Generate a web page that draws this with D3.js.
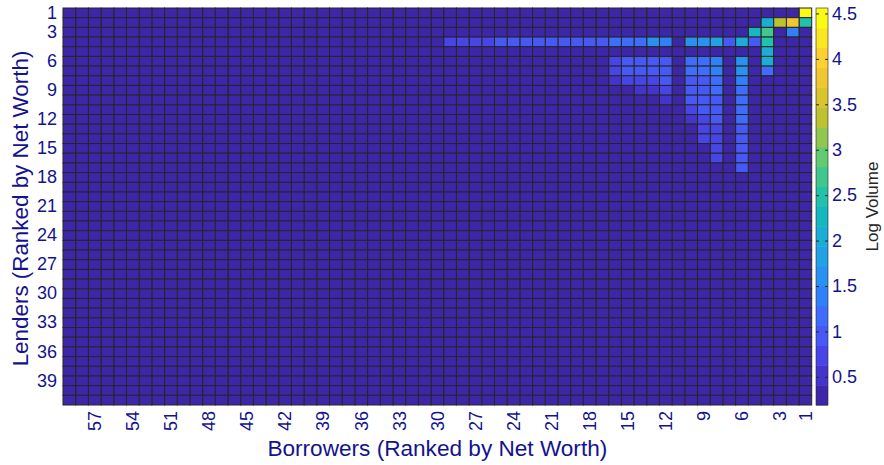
<!DOCTYPE html>
<html>
<head>
<meta charset="utf-8">
<script src="https://cdn.jsdelivr.net/npm/d3@7"></script>
<style>
  body { margin: 0; background: #fff; }
  text { font-family: "Liberation Sans", Arial, sans-serif; }
</style>
</head>
<body>
<svg id="heatmap" width="884" height="465"></svg>
<script>
// Data
const nBorrowers = 59;
const nLenders = 41;
const baseValue = 0.2;
const xTicks = [1, 3, 6, 9, 12, 15, 18, 21, 24, 27, 30, 33, 36, 39, 42, 45, 48, 51, 54, 57];
const yTicks = [1, 3, 6, 9, 12, 15, 18, 21, 24, 27, 30, 33, 36, 39];
const cbTicks = [0.5, 1, 1.5, 2, 2.5, 3, 3.5, 4, 4.5];
const cbDomain = [0.19, 4.56];

// cells above the base level: [lender, borrower, log volume]
const hotCells = [
  [1, 1, 4.5],
  [2, 1, 2.5], [2, 2, 3.8], [2, 3, 3.4], [2, 4, 2.05],
  [3, 2, 1.4], [3, 4, 2.7], [3, 5, 2.25],
  [4, 4, 2.5], [4, 5, 0.95], [4, 6, 2.0], [4, 7, 0.9], [4, 8, 1.9], [4, 9, 1.65], [4, 10, 1.6],
  [4, 12, 1.5], [4, 13, 1.55], [4, 14, 1.2], [4, 15, 1.15], [4, 16, 1.2], [4, 17, 0.95],
  [4, 18, 1.05], [4, 19, 1.05], [4, 20, 1.05], [4, 21, 0.95], [4, 22, 0.95], [4, 23, 1.0],
  [4, 24, 1.0], [4, 25, 1.0], [4, 26, 0.75], [4, 27, 0.75], [4, 28, 0.75], [4, 29, 0.7],
  [4, 30, 0.35], [4, 31, 0.3],
  [5, 4, 2.05],
  [6, 4, 2.0], [6, 6, 1.55], [6, 8, 1.45], [6, 9, 1.2], [6, 10, 1.2], [6, 12, 1.0], [6, 13, 1.05],
  [6, 14, 0.9], [6, 15, 0.95], [6, 16, 0.8],
  [7, 4, 1.2], [7, 6, 1.55], [7, 8, 1.3], [7, 9, 1.15], [7, 10, 1.1], [7, 12, 0.95], [7, 13, 0.95],
  [7, 14, 0.95], [7, 15, 0.85], [7, 16, 0.8],
  [8, 6, 1.4], [8, 8, 1.2], [8, 9, 1.05], [8, 10, 1.0], [8, 12, 0.85], [8, 13, 0.75], [8, 14, 0.75],
  [8, 15, 0.65], [8, 16, 0.6],
  [9, 6, 1.2], [9, 8, 1.1], [9, 9, 1.0], [9, 10, 0.95], [9, 12, 0.7], [9, 13, 0.6], [9, 14, 0.6],
  [10, 6, 1.2], [10, 8, 1.05], [10, 9, 1.0], [10, 10, 0.9], [10, 12, 0.6],
  [11, 6, 1.25], [11, 8, 1.0], [11, 9, 0.95], [11, 10, 0.8],
  [12, 6, 1.1], [12, 8, 0.95], [12, 9, 0.8], [12, 10, 0.6],
  [13, 6, 1.0], [13, 8, 0.8], [13, 9, 0.7],
  [14, 6, 0.95], [14, 8, 0.75], [14, 9, 0.7],
  [15, 6, 0.95], [15, 8, 0.75],
  [16, 6, 0.9], [16, 8, 0.65],
  [17, 6, 0.9]
];

// parula-like colormap, 20 steps
const parulaStops = ["#3e26a8", "#4536d4", "#484cf0", "#4562fc", "#327cfc", "#21a3e3",
  "#12beb8", "#5ccc75", "#c8c129", "#fec934", "#f9fb15"];
const stopPos = [0, 0.0625, 0.125, 0.1875, 0.25, 0.375, 0.5, 0.625, 0.75, 0.875, 1];
const parula = d3.scaleLinear().domain(stopPos).range(parulaStops).interpolate(d3.interpolateRgb);
const nLevels = 20;
const levelColors = d3.range(nLevels).map(k => parula(k / (nLevels - 1)));
const color = d3.scaleQuantize().domain(cbDomain).range(levelColors);

const svg = d3.select("#heatmap");
const margin = {top: 8, left: 63, right: 72.3, bottom: 60};
const width = 884, height = 465;
const plotRight = width - margin.right;
const plotBottom = height - margin.bottom;
const ink = "#13138f";

const lookup = new Map(hotCells.map(d => [d[0] + "-" + d[1], d[2]]));
const cells = [];
for (let r = 1; r <= nLenders; r++) {
  for (let c = 1; c <= nBorrowers; c++) {
    const v = lookup.get(r + "-" + c);
    cells.push({lender: r, borrower: c, value: v === undefined ? baseValue : v});
  }
}

const xScale = d3.scaleBand()
  .domain(d3.range(nBorrowers, 0, -1))
  .range([margin.left, plotRight]);
const yScale = d3.scaleBand()
  .domain(d3.range(1, nLenders + 1))
  .range([margin.top, plotBottom]);

// cells
svg.append("g").selectAll("rect")
  .data(cells)
  .enter().append("rect")
    .attr("x", d => xScale(d.borrower))
    .attr("y", d => yScale(d.lender))
    .attr("width", xScale.bandwidth())
    .attr("height", yScale.bandwidth())
    .attr("fill", d => color(d.value))
    .attr("stroke", "#262626")
    .attr("stroke-width", 1);

// axes
const xAxis = svg.append("g")
  .attr("transform", `translate(0,${plotBottom})`)
  .call(d3.axisBottom(xScale).tickValues(xTicks).tickSize(0).tickPadding(0));
xAxis.select(".domain").remove();
xAxis.selectAll("text")
  .attr("transform", "translate(0,6) rotate(-90)")
  .attr("text-anchor", "end")
  .attr("x", 0).attr("y", 0)
  .attr("dy", "0.35em")
  .attr("font-size", 18)
  .attr("fill", ink);

const yAxis = svg.append("g")
  .attr("transform", `translate(${margin.left},0)`)
  .call(d3.axisLeft(yScale).tickValues(yTicks).tickSize(0).tickPadding(6));
yAxis.select(".domain").remove();
yAxis.selectAll("text")
  .attr("font-size", 18)
  .attr("fill", ink);

svg.append("text")
  .attr("x", (margin.left + plotRight) / 2)
  .attr("y", 456)
  .attr("text-anchor", "middle")
  .attr("font-size", 22.6)
  .attr("fill", ink)
  .text("Borrowers (Ranked by Net Worth)");

svg.append("text")
  .attr("transform", `translate(28,${(margin.top + plotBottom) / 2 + 2}) rotate(-90)`)
  .attr("text-anchor", "middle")
  .attr("font-size", 22.4)
  .attr("fill", ink)
  .text("Lenders (Ranked by Net Worth)");

// colorbar
const cbX = 816, cbW = 12;
const cbScale = d3.scaleLinear().domain(cbDomain).range([plotBottom, margin.top]);
const step = (cbDomain[1] - cbDomain[0]) / nLevels;
svg.append("g").selectAll("rect")
  .data(levelColors)
  .enter().append("rect")
    .attr("x", cbX)
    .attr("y", (d, i) => cbScale(cbDomain[0] + (i + 1) * step))
    .attr("width", cbW)
    .attr("height", (d, i) => cbScale(cbDomain[0] + i * step) - cbScale(cbDomain[0] + (i + 1) * step) + 0.5)
    .attr("fill", d => d);
svg.append("rect")
  .attr("x", cbX).attr("y", margin.top)
  .attr("width", cbW).attr("height", plotBottom - margin.top)
  .attr("fill", "none").attr("stroke", "#262626").attr("stroke-width", 0.6);

const cbAxis = svg.append("g")
  .attr("transform", `translate(${cbX + cbW},0)`)
  .call(d3.axisRight(cbScale).tickValues(cbTicks).tickSize(-3).tickPadding(4)
    .tickFormat(d3.format("~g")));
cbAxis.select(".domain").remove();
cbAxis.selectAll("line").attr("stroke", "#262626");
cbAxis.selectAll("text").attr("font-size", 18).attr("fill", ink);
svg.append("g")
  .attr("transform", `translate(${cbX},0)`)
  .call(d3.axisRight(cbScale).tickValues(cbTicks).tickSize(3).tickFormat(""))
  .call(g => g.select(".domain").remove())
  .selectAll("line").attr("stroke", "#262626");

svg.append("text")
  .attr("transform", `translate(878,${(margin.top + plotBottom) / 2}) rotate(-90)`)
  .attr("text-anchor", "middle")
  .attr("font-size", 17)
  .attr("fill", "#262626")
  .text("Log Volume");
</script>
</body>
</html>
